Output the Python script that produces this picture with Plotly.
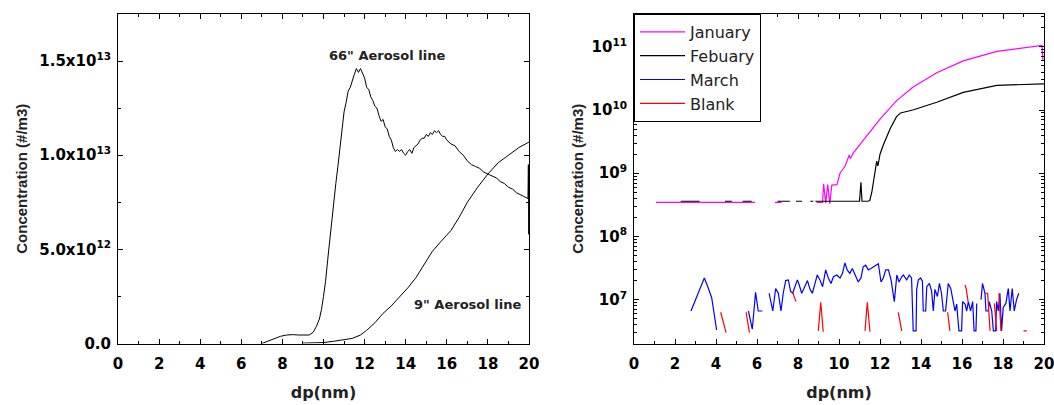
import plotly.graph_objects as go

# ---------------- Left panel data (concentration in units of 1e12 #/m3) ----------------
SCALE_L = 1e12
dp_66 = [7.0, 7.3, 7.6, 7.9, 8.2, 8.5, 8.8, 9.1, 9.3, 9.5, 9.65, 9.8, 9.9, 10.0, 10.1, 10.2, 10.3, 10.4,
         10.5, 10.6, 10.7, 10.8, 10.9, 11.0, 11.1, 11.2, 11.3, 11.4, 11.5, 11.6, 11.7, 11.8, 11.9, 12.0,
         12.1, 12.2, 12.3, 12.4, 12.5, 12.6, 12.7, 12.8, 12.9, 13.0, 13.1, 13.2, 13.3, 13.4, 13.5, 13.6,
         13.7, 13.8, 13.9, 14.0, 14.1, 14.2, 14.3, 14.4, 14.5, 14.6, 14.7, 14.8, 14.9, 15.0, 15.1, 15.2,
         15.3, 15.4, 15.5, 15.6, 15.7, 15.8, 15.9, 16.0, 16.2, 16.4, 16.6, 16.8, 17.0, 17.2, 17.4, 17.6,
         17.8, 18.0, 18.2, 18.4, 18.6, 18.8, 19.0, 19.2, 19.4, 19.6, 19.8, 19.95, 19.97, 19.99, 20.0]
conc_66 = [0.0, 0.12, 0.25, 0.38, 0.45, 0.47, 0.45, 0.43, 0.45, 0.6, 0.9, 1.3, 1.8, 2.5, 3.3, 4.4, 5.5, 6.6,
           7.6, 8.5, 9.4, 10.4, 11.6, 12.3, 12.8, 13.4, 13.6, 14.0, 14.3, 14.6, 14.4, 14.6, 14.3, 14.1,
           13.6, 13.5, 13.1, 12.9, 12.6, 12.5, 12.1, 11.8, 11.9, 11.5, 11.4, 11.0, 10.8, 10.4, 10.2, 10.3,
           10.2, 10.3, 10.1, 10.0, 10.2, 10.3, 10.1, 10.4, 10.5, 10.6, 10.8, 10.9, 10.9, 11.1, 11.0, 11.2,
           11.1, 11.3, 11.2, 11.3, 11.1, 11.0, 11.0, 10.8, 10.6, 10.5, 10.2, 10.0, 9.7, 9.5, 9.4, 9.3,
           9.1, 9.0, 8.9, 8.8, 8.6, 8.5, 8.3, 8.2, 8.0, 7.9, 7.8, 7.7, 9.5, 5.8, 7.3]

dp_9 = [9.0, 9.5, 10.0, 10.5, 11.0, 11.4, 11.8, 12.1, 12.5, 12.9, 13.3, 13.7, 14.1, 14.5, 14.9, 15.3,
        15.7, 16.2, 16.6, 17.0, 17.5, 18.0, 18.5, 19.0, 19.5, 20.0]
conc_9 = [0.02, 0.03, 0.05, 0.12, 0.2, 0.27, 0.45, 0.7, 1.1, 1.6, 2.0, 2.45, 2.95, 3.5, 4.2, 4.9,
          5.4, 6.0, 6.7, 7.5, 8.3, 9.0, 9.6, 10.0, 10.4, 10.7]

left_yticks = [0, 5e12, 1e13, 1.5e13]
left_yticktext = ["0.0", "5.0x10<sup>12</sup>", "1.0x10<sup>13</sup>", "1.5x10<sup>13</sup>"]
x_ticks = [0, 2, 4, 6, 8, 10, 12, 14, 16, 18, 20]

# ---------------- Right panel data (#/m3), None = gap ----------------
dp_jan = [1.07, 5.9, None, 6.88, 7.2, None, 8.9, 9.2, 9.25, 9.35, 9.45, 9.55, 9.65, 9.9, 10.05, 10.3,
          10.5, 10.55, 10.7, 11.0, 11.35, 12.0, 12.8, 13.6, 14.77, 16.06, 17.7, 19.47, 19.9, 19.95]
conc_jan = [3.45e8, 3.45e8, None, 3.45e8, 3.45e8, None, 3.45e8, 3.45e8, 6.8e8, 3.4e8, 6.6e8, 3.3e8,
            6.5e8, 6.6e8, 1.0e9, 1.3e9, 1.95e9, 1.7e9, 2.1e9, 2.8e9, 4.0e9, 7.2e9, 1.4e10, 2.3e10,
            3.9e10, 6.0e10, 8.5e10, 1.02e11, 1.05e11, 6.0e10]

dp_feb = [2.28, 3.2, None, 4.44, 4.77, None, 5.3, 5.74, None, 7.0, 7.6, None, 7.9, 8.2, None, 8.6, 8.75,
          None, 8.85, 11.0, 11.07, 11.12, 11.4, 11.5, 11.6, 11.84, 11.9, 12.0, 12.16, 12.5, 12.8, 13.0,
          13.6, 14.77, 16.06, 17.7, 19.95, 20.0]
conc_feb = [3.6e8, 3.6e8, None, 3.6e8, 3.6e8, None, 3.6e8, 3.6e8, None, 3.6e8, 3.6e8, None, 3.6e8, 3.6e8,
            None, 3.6e8, 3.6e8, None, 3.6e8, 3.6e8, 7.2e8, 3.6e8, 3.6e8, 3.7e8, 5.0e8, 1.55e9, 1.3e9,
            2.0e9, 2.8e9, 5.1e9, 7.8e9, 9.0e9, 1.0e10, 1.33e10, 1.9e10, 2.45e10, 2.6e10, 2.6e10]

dp_mar = [2.78, 3.43, 3.6, 3.79, 4.03, None,
          5.58, 5.77, 5.93, 6.06, 6.26, None,
          6.59, 6.72, 6.77, 6.91, 7.04, 7.17, 7.28, 7.4, 7.53, 7.64, 7.74, 7.85, 7.97, 8.06, 8.18, 8.29,
          8.46, 8.59, 8.7, 8.83, 8.94, 9.07, 9.2, 9.35, 9.48, 9.61, 9.73, 9.89, 10.05, 10.17, 10.29,
          10.4, 10.53, 10.65, 10.78, 10.94, 11.07, 11.18, 11.3, 11.43, 11.56, 11.67, 11.8, 11.92, 12.05,
          12.16, 12.28, 12.41, 12.54, 12.7, 12.82, 12.93, 13.06, 13.14, 13.3, 13.43, 13.54, 13.62, 13.76,
          13.79, 13.87, 13.98, 14.07, 14.11, 14.23, 14.28, 14.41, 14.52, 14.6, 14.68, 14.8, 14.9, 15.0,
          15.09, 15.2, 15.33, 15.45, 15.54, 15.66, 15.74, 15.85, 15.98, 16.03, 16.15, 16.23, 16.31,
          16.42, 16.52, 16.59, 16.68, 16.72, None,
          16.93, 17.0, 17.12, 17.17, 17.28, 17.33, 17.45, 17.53, 17.64, 17.69, 17.77, 17.85, 17.93,
          18.01, 18.14, 18.26, 18.34, 18.45, 18.55, 18.66, 18.77]
conc_mar = [6.6e6, 2.2e7, 1.6e7, 1.07e7, 3.3e6, None,
            6.6e6, 3.4e6, 1.3e7, 6.6e6, 6.6e6, None,
            1.26e7, 8.0e6, 6.6e6, 1.5e7, 1.26e7, 6.6e6, 1.26e7, 2.0e7, 2.05e7, 1.35e7, 1.26e7, 1.6e7,
            2.05e7, 1.7e7, 1.26e7, 1.5e7, 2.0e7, 1.45e7, 1.26e7, 1.8e7, 2.45e7, 2.05e7, 1.6e7, 2.95e7,
            2.2e7, 1.8e7, 2.3e7, 2.45e7, 2.2e7, 2.6e7, 3.8e7, 2.95e7, 2.6e7, 3.1e7, 2.45e7, 1.9e7, 2.2e7,
            3.3e7, 3.5e7, 2.95e7, 3.1e7, 3.3e7, 3.5e7, 3.7e7, 1.9e7, 2.2e7, 2.95e7, 2.95e7, 2.05e7,
            9.3e6, 2.45e7, 1.9e7, 2.3e7, 2.45e7, 2.05e7, 2.45e7, 2.2e7, 3.2e6, 3.2e6, 1.45e7, 2.05e7,
            2.2e7, 1.95e7, 6.6e6, 6.6e6, 1.6e7, 1.8e7, 1.35e7, 6.6e6, 1.45e7, 1.12e7, 1.8e7, 1.26e7,
            6.6e6, 6.6e6, 1.8e7, 1.5e7, 1.0e7, 6.6e6, 8.5e6, 3.2e6, 3.2e6, 9.3e6, 8.5e6, 6.6e6, 9.3e6,
            6.6e6, 9.3e6, 3.2e6, 3.2e6, 8.7e6, None,
            1.0e7, 1.8e7, 1.26e7, 6.6e6, 6.6e6, 9.3e6, 6.6e6, 3.2e6, 3.2e6, 9.3e6, 6.6e6, 1.26e7, 3.2e6,
            7.5e6, 8.7e6, 1.5e7, 6.6e6, 1.5e7, 6.6e6, 1.0e7, 1.26e7]

dp_blank = [4.23, 4.49, None, 5.47, 5.63, None, 7.74, 7.9, None, 8.99, 9.11, 9.23, None,
            11.27, 11.38, 11.51, None, 12.89, 13.06, None, 15.3, 15.41, None, 16.15, 16.2, 16.3, None,
            17.12, 17.25, 17.37, None, 17.58, 17.69, None, 17.8, 17.9, None, 19.0, 19.16]
conc_blank = [6.3e6, 3.0e6, None, 6.3e6, 3.0e6, None, 1.3e7, 9.3e6, None, 3.2e6, 9.1e6, 3.1e6, None,
              3.2e6, 9.1e6, 3.1e6, None, 6.3e6, 3.2e6, None, 6.3e6, 3.2e6, None, 1.7e7, 1.5e7, 9.3e6, None,
              1.26e7, 1.26e7, 3.2e6, None, 8.7e6, 3.2e6, None, 1.26e7, 3.2e6, None, 3.2e6, 3.2e6]

right_yticks = [1e7, 1e8, 1e9, 1e10, 1e11]
right_yticktext = ["10<sup>7</sup>", "10<sup>8</sup>", "10<sup>9</sup>", "10<sup>10</sup>", "10<sup>11</sup>"]

# ---------------- Figure ----------------
W, H = 1054, 405
fig = go.Figure()

fig.add_trace(go.Scatter(x=dp_66, y=[v * SCALE_L for v in conc_66], mode="lines",
                         line=dict(color="black", width=1), showlegend=False, xaxis="x", yaxis="y"))
fig.add_trace(go.Scatter(x=dp_9, y=[v * SCALE_L for v in conc_9], mode="lines",
                         line=dict(color="black", width=1), showlegend=False, xaxis="x", yaxis="y"))

fig.add_trace(go.Scatter(x=dp_jan, y=conc_jan, mode="lines", name="January",
                         line=dict(color="#FF00FF", width=1.2), xaxis="x2", yaxis="y2"))
fig.add_trace(go.Scatter(x=dp_feb, y=conc_feb, mode="lines", name="Febuary",
                         line=dict(color="black", width=1.2), xaxis="x2", yaxis="y2"))
fig.add_trace(go.Scatter(x=dp_mar, y=conc_mar, mode="lines", name="March",
                         line=dict(color="#0000FF", width=1.2), xaxis="x2", yaxis="y2"))
fig.add_trace(go.Scatter(x=dp_blank, y=conc_blank, mode="lines", name="Blank",
                         line=dict(color="#FF0000", width=1.2), xaxis="x2", yaxis="y2"))

tickfont = dict(family="DejaVu Sans", size=15, color="black", weight="bold")
xtitlefont = dict(family="DejaVu Sans", size=16, color="#222", weight="bold")
ytitlefont = dict(family="Liberation Sans", size=15, color="#222", weight="bold")

def axis_common():
    return dict(showline=True, linecolor="black", linewidth=1, mirror="allticks",
                ticks="inside", ticklen=5, tickcolor="black", tickwidth=1, automargin=False,
                showgrid=False, zeroline=False, tickfont=tickfont, ticklabeloverflow="allow")

y_dom = [1 - 343.5 / H, 1 - 14 / H]

xa = axis_common()
xa.update(domain=[118 / W, 529 / W], range=[0, 20], tickmode="array", tickvals=x_ticks,
          ticklabelstandoff=6,
          minor=dict(ticks="inside", ticklen=3, dtick=1, tick0=0, tickcolor="black"),
          title=dict(text="dp(nm)", font=xtitlefont, standoff=15), anchor="y")
ya = axis_common()
ya.update(domain=y_dom, range=[0, 1.75e13], tickmode="array", tickvals=left_yticks,
          ticktext=left_yticktext, ticklabelstandoff=3,
          minor=dict(ticks="inside", ticklen=3, dtick=2.5e12, tick0=0, tickcolor="black"),
          title=dict(text="Concentration (#/m3)", font=ytitlefont, standoff=8), anchor="x")

xa2 = axis_common()
xa2.update(domain=[634 / W, 1044 / W], range=[0, 20], tickmode="array", tickvals=x_ticks,
           ticklabelstandoff=6,
           minor=dict(ticks="inside", ticklen=3, dtick=1, tick0=0, tickcolor="black"),
           title=dict(text="dp(nm)", font=xtitlefont, standoff=15), anchor="y2")
ya2 = axis_common()
ya2.update(domain=y_dom, type="log", range=[6.305, 11.52], tickmode="array", tickvals=right_yticks,
           ticktext=right_yticktext, ticklabelstandoff=3,
           minor=dict(ticks="inside", ticklen=3, dtick="D1", tickcolor="black"),
           title=dict(text="Concentration (#/m3)", font=ytitlefont, standoff=4), anchor="x2")

fig.update_layout(
    width=W, height=H, autosize=False,
    margin=dict(l=0, r=0, t=0, b=0, autoexpand=False),
    paper_bgcolor="white", plot_bgcolor="white",
    xaxis=xa, yaxis=ya, xaxis2=xa2, yaxis2=ya2,
    legend=dict(x=634 / W, y=1 - 14 / H, xanchor="left", yanchor="top",
                bgcolor="white", bordercolor="black", borderwidth=1,
                font=dict(family="DejaVu Sans", size=16, color="#222"),
                itemwidth=45, tracegroupgap=0),
    annotations=[
        dict(x=13.1, y=15.3e12, xref="x", yref="y", text="66\" Aerosol line", showarrow=False,
             font=dict(family="DejaVu Sans", size=13, color="#222", weight="bold")),
        dict(x=17.0, y=2.05e12, xref="x", yref="y", text="9\" Aerosol line", showarrow=False,
             font=dict(family="DejaVu Sans", size=13, color="#222", weight="bold")),
    ],
)

fig.write_html("out.html")
